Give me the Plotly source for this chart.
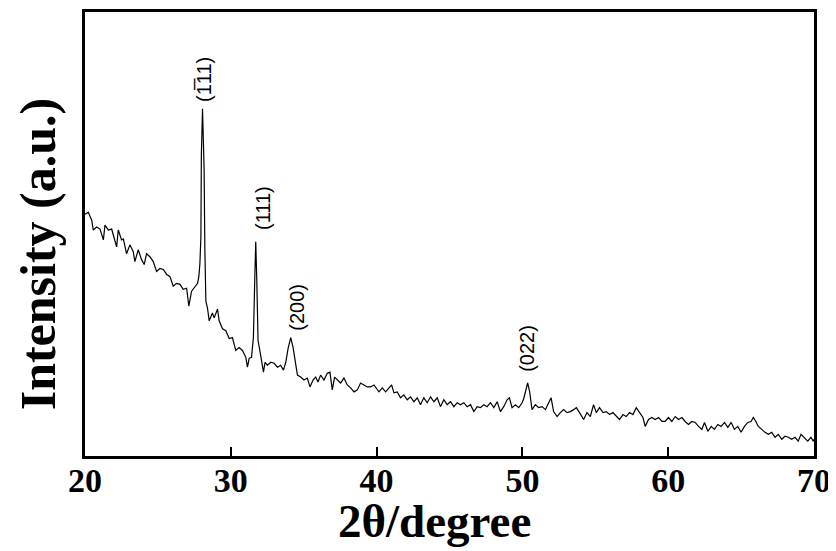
import plotly.graph_objects as go

# 2theta (degree) and intensity (a.u.)
two_theta = [
    20.00, 20.23, 20.46, 20.57, 20.80, 21.03, 21.26, 21.37, 21.60, 21.83, 21.94, 22.17, 22.28, 22.51,
    22.63, 22.85, 23.08, 23.31, 23.42, 23.65, 23.88, 24.06, 24.22, 24.45, 24.68, 24.91, 25.14, 25.37,
    25.60, 25.82, 26.05, 26.28, 26.51, 26.74, 26.97, 27.12, 27.31, 27.53, 27.72, 27.81, 27.88, 27.95,
    27.98, 28.06, 28.17, 28.22, 28.29, 28.40,
    28.52, 28.74, 28.86, 29.09, 29.20, 29.43, 29.66, 29.89, 30.11, 30.34, 30.57, 30.80, 31.03, 31.14,
    31.26, 31.42, 31.55, 31.64, 31.71, 31.78, 31.87, 31.99, 32.10, 32.24, 32.35, 32.51, 32.74, 32.97,
    33.20, 33.42, 33.61, 33.77, 33.93, 34.11, 34.27, 34.45, 34.57, 34.79, 35.02, 35.25, 35.43, 35.64,
    35.82, 35.98, 36.16, 36.39, 36.62, 36.80, 36.96, 37.12, 37.31, 37.53, 37.76, 37.99, 38.22, 38.45,
    38.68, 38.90, 39.13, 39.36, 39.59, 39.82,
    40.16, 40.39, 40.62, 40.84, 41.03, 41.19, 41.42, 41.64, 41.87, 42.10, 42.33, 42.56, 42.79, 43.01,
    43.24, 43.47, 43.70, 43.93, 44.16, 44.38, 44.61, 44.84, 45.07, 45.30, 45.53, 45.75, 45.98, 46.21,
    46.44, 46.67, 46.90, 47.12, 47.35, 47.58, 47.81, 48.04, 48.27, 48.49, 48.72, 48.95, 49.11, 49.29,
    49.52, 49.75, 49.98, 50.09, 50.18,
    50.27, 50.36, 50.50, 50.66, 50.89, 51.12, 51.35, 51.58, 51.80, 51.97, 52.14, 52.38, 52.60, 52.83,
    53.06, 53.29, 53.51, 53.70, 53.92, 54.20, 54.43, 54.66, 54.88, 55.07, 55.29, 55.53, 55.75, 55.98,
    56.21, 56.44, 56.66, 56.90, 57.12, 57.35, 57.58, 57.81, 58.03, 58.27, 58.42, 58.65, 58.88, 59.11,
    59.34, 59.57,
    59.79, 60.02, 60.25, 60.48, 60.71, 60.94, 61.16, 61.39, 61.62, 61.85, 62.08, 62.31, 62.49, 62.72,
    62.95, 63.17, 63.40, 63.63, 63.86, 64.09, 64.32, 64.54, 64.77, 65.00, 65.23, 65.46, 65.68, 65.84,
    66.01, 66.18, 66.42, 66.64, 66.87, 67.10, 67.33, 67.55, 67.79, 68.01, 68.24, 68.47, 68.70, 68.92,
    69.11, 69.34, 69.57, 69.79, 69.95, 70.00,
]
intensity = [
    245, 247, 239, 229, 232, 230, 219, 234, 229, 230, 224, 212, 229, 219,
    220, 205, 214, 207, 197, 209, 199, 194, 205, 202, 197, 187, 190, 189,
    184, 182, 172, 175, 174, 169, 170, 152, 167, 172, 175, 182, 195, 222,
    304, 352, 290, 210, 157, 150,
    137, 145, 140, 149, 137, 129, 127, 119, 120, 107, 110, 107, 100, 90,
    99, 100, 120, 177, 217, 180, 117, 107, 95, 85, 95, 92, 95, 94,
    90, 92, 87, 95, 109, 120, 110, 95, 82, 80, 77, 79, 70, 77,
    80, 75, 82, 77, 84, 85, 67, 80, 77, 74, 79, 72, 69, 65,
    67, 74, 72, 70, 70, 72,
    65, 69, 65, 69, 72, 64, 65, 59, 62, 57, 60, 55, 59, 52,
    59, 54, 60, 55, 59, 50, 57, 52, 55, 50, 54, 52, 54, 50,
    52, 45, 50, 49, 52, 50, 54, 49, 55, 45, 50, 57, 59, 49,
    52, 49, 54, 58, 64,
    67, 74, 65, 47, 52, 49, 50, 47, 54, 59, 45, 40, 44, 47,
    44, 45, 47, 49, 44, 37, 44, 40, 52, 44, 49, 44, 45, 42,
    44, 40, 37, 42, 40, 44, 42, 49, 44, 39, 30, 37, 39, 37,
    39, 35,
    35, 39, 35, 40, 37, 39, 35, 32, 35, 34, 30, 27, 34, 25,
    30, 27, 32, 30, 34, 29, 34, 27, 30, 24, 30, 34, 35, 39,
    35, 30, 27, 24, 22, 24, 19, 22, 17, 20, 19, 17, 19, 15,
    22, 19, 15, 19, 15, 17,
]

peak_labels = ["(1\u030511)", "(111)", "(200)", "(022)"]
peak_label_x = [28.15, 32.25, 34.52, 50.34]
peak_label_y = [382, 251, 151, 109]

x_ticks = [20, 30, 40, 50, 60, 70]

fig = go.Figure()
fig.add_trace(go.Scatter(x=two_theta, y=intensity, mode="lines",
                         line=dict(color="black", width=1.2), hoverinfo="skip"))

for t, xv, yv in zip(peak_labels, peak_label_x, peak_label_y):
    fig.add_annotation(x=xv, y=yv, text=t, textangle=-90, showarrow=False,
                       xanchor="center", yanchor="middle",
                       font=dict(family="Liberation Sans", size=20, color="black"))

fig.add_annotation(xref="paper", yref="paper", x=0.479, y=-0.147, text="2θ/degree",
                   xanchor="center", yanchor="middle", showarrow=False,
                   font=dict(family="Liberation Serif", size=47, color="black", weight="bold"))
fig.add_annotation(xref="paper", yref="paper", x=-0.064, y=0.455,
                   xanchor="center", yanchor="middle",
                   text="Intensity (a.u.)", textangle=-90, showarrow=False,
                   font=dict(family="Liberation Serif", size=50, color="black", weight="bold"))

fig.update_layout(
    width=828, height=543,
    margin=dict(l=77, r=22, t=1, b=95),
    plot_bgcolor="white", paper_bgcolor="white",
    showlegend=False,
)
fig.update_xaxes(range=[20, 70], tickvals=x_ticks, ticktext=[str(v) for v in x_ticks],
                 ticks="inside", ticklen=9, tickwidth=2, tickcolor="black",
                 showline=True, linewidth=3, linecolor="black", mirror=True,
                 showgrid=False, zeroline=False, ticklabelstandoff=-8,
                 tickfont=dict(family="Liberation Serif", size=34, color="black", weight="bold"))
fig.update_yaxes(range=[0, 450], showticklabels=False, ticks="",
                 showline=True, linewidth=3, linecolor="black", mirror=True,
                 showgrid=False, zeroline=False)

fig.write_html("out.html")
